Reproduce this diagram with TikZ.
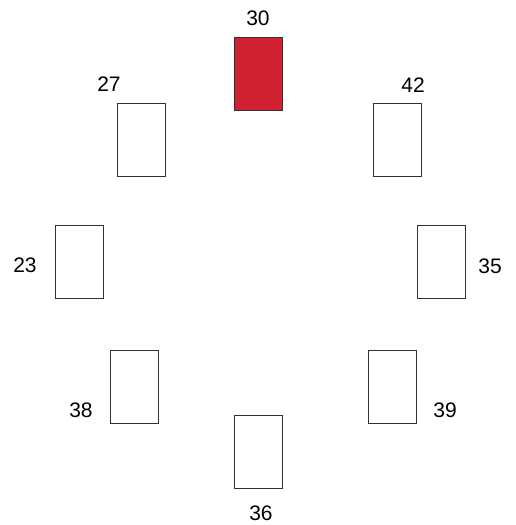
\documentclass[tikz,border=0pt]{standalone}
\usepackage{fontspec}
\setmainfont{Liberation Sans}
\definecolor{seatred}{RGB}{208,33,50}
\definecolor{seatline}{RGB}{50,50,50}

\begin{document}
\begin{tikzpicture}[x=1pt,y=-1pt,font=\fontsize{21}{24}\selectfont,
 seat/.style={draw=seatline,line width=1pt,fill=white,minimum width=48pt,minimum height=73pt,inner sep=0pt},
 num/.style={inner sep=0pt,text=black}]
\useasboundingbox (0,0) rectangle (515,525);
% the table seats, clockwise from the top
\node[seat,fill=seatred] (s30) at (258.5,74) {};
\node[seat] (s42) at (397,140) {};
\node[seat] (s35) at (441,261.5) {};
\node[seat] (s39) at (392.5,386.5) {};
\node[seat] (s36) at (258.5,451.5) {};
\node[seat] (s38) at (134,386.5) {};
\node[seat] (s23) at (79,261.5) {};
\node[seat] (s27) at (141.5,140) {};
% numbers
\node[num] (n30) at (258,18) {30};
\node[num] (n42) at (413,85) {42};
\node[num] (n35) at (490,266) {35};
\node[num] (n39) at (445,410) {39};
\node[num] (n36) at (261,513) {36};
\node[num] (n38) at (81,410) {38};
\node[num] (n23) at (25,265) {23};
\node[num] (n27) at (109,84) {27};
\end{tikzpicture}
\end{document}
